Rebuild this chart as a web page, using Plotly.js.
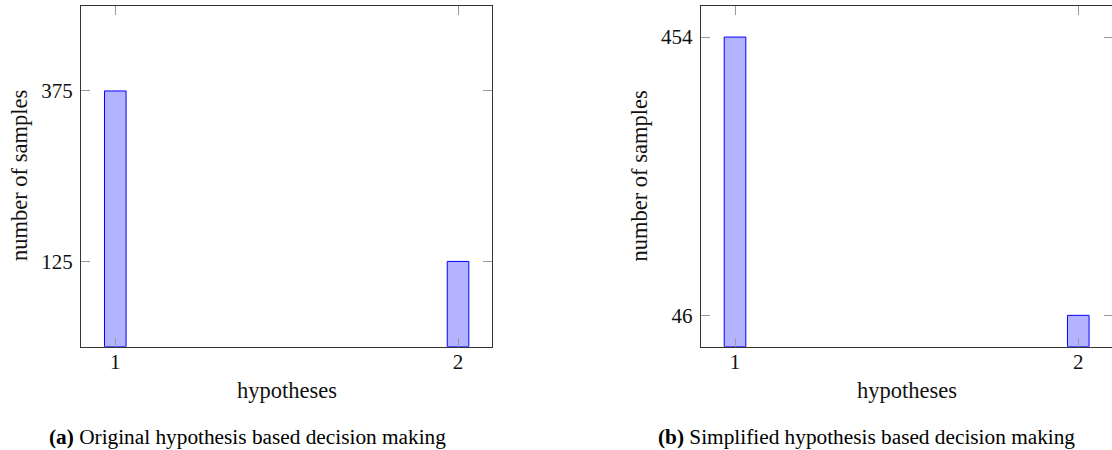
<!DOCTYPE html>
<html>
<head>
<meta charset="utf-8">
<script src="https://cdn.plot.ly/plotly-3.0.1.min.js"></script>
<style>
html, body { margin: 0; padding: 0; overflow: hidden; background: #fff; }
#chart { width: 1114px; height: 450px; }
</style>
</head>
<body>
<div id="chart"></div>
<script>
// Data
const hypotheses = [1, 2];
const originalSamples = [375, 125];
const simplifiedSamples = [454, 46];
const xTickLabels = ["1", "2"];
const xAxisTitle = "hypotheses";
const yAxisTitle = "number of samples";
const captionA = "<b>(a)</b> Original hypothesis based decision making";
const captionB = "<b>(b)</b> Simplified hypothesis based decision making";

const W = 1114, H = 450;
const px = v => v / W;
const py = v => 1 - v / H;

const fontFamily = "Liberation Serif, Times New Roman, serif";
const barStyle = {
  type: 'bar',
  width: 0.063,
  marker: { color: '#b3b3ff', line: { color: '#0000ff', width: 1 } },
  hoverinfo: 'skip',
  showlegend: false
};

const traces = [
  Object.assign({}, barStyle, { x: hypotheses, y: originalSamples, xaxis: 'x', yaxis: 'y' }),
  Object.assign({}, barStyle, { x: hypotheses, y: simplifiedSamples, xaxis: 'x2', yaxis: 'y2' })
];

function xAxis(domain, anchor) {
  return {
    domain: domain, anchor: anchor, range: [0.9, 2.1],
    tickvals: hypotheses, ticktext: xTickLabels,
    showgrid: false, zeroline: false,
    showline: true, linecolor: '#333', linewidth: 1, mirror: 'ticks',
    ticks: 'inside', ticklen: 9, tickcolor: '#999', tickwidth: 1,
    ticklabelstandoff: -4,
    tickfont: { family: fontFamily, size: 21, color: '#111' }
  };
}
function yAxis(domain, anchor, vals) {
  return {
    domain: domain, anchor: anchor, range: [0, 500],
    tickvals: vals, ticktext: vals.map(String),
    showgrid: false, zeroline: false,
    showline: true, linecolor: '#333', linewidth: 1, mirror: 'ticks',
    ticks: 'inside', ticklen: 9, tickcolor: '#999', tickwidth: 1,
    ticklabelstandoff: 3,
    tickfont: { family: fontFamily, size: 21, color: '#111' }
  };
}

const yDom = [py(346.7), py(5.7)];
const titleFont = { family: fontFamily, size: 22.5, color: '#111' };
const capFont = { family: fontFamily, size: 21.3, color: '#000' };
const layout = {
  width: W, height: H,
  margin: { l: 0, r: 0, t: 0, b: 0, pad: 0 },
  paper_bgcolor: '#fff', plot_bgcolor: '#fff',
  bargap: 0,
  xaxis: xAxis([px(81), px(492.3)], 'y'),
  yaxis: yAxis(yDom, 'x', originalSamples.slice().sort((a, b) => a - b)),
  xaxis2: xAxis([px(700.7), px(1112.6)], 'y2'),
  yaxis2: yAxis(yDom, 'x2', simplifiedSamples.slice().sort((a, b) => a - b)),
  annotations: [
    { text: xAxisTitle, x: px(286.5), y: py(390), xref: 'paper', yref: 'paper', showarrow: false,
      xanchor: 'center', yanchor: 'middle', font: titleFont },
    { text: xAxisTitle, x: px(906.5), y: py(390), xref: 'paper', yref: 'paper', showarrow: false,
      xanchor: 'center', yanchor: 'middle', font: titleFont },
    { text: yAxisTitle, x: px(19), y: py(176), xref: 'paper', yref: 'paper', showarrow: false, textangle: -90,
      xanchor: 'center', yanchor: 'middle', font: titleFont },
    { text: yAxisTitle, x: px(638.5), y: py(176), xref: 'paper', yref: 'paper', showarrow: false, textangle: -90,
      xanchor: 'center', yanchor: 'middle', font: titleFont },
    { text: captionA, x: px(247), y: py(437), xref: 'paper', yref: 'paper', showarrow: false,
      xanchor: 'center', yanchor: 'middle', font: capFont },
    { text: captionB, x: px(866.5), y: py(437), xref: 'paper', yref: 'paper', showarrow: false,
      xanchor: 'center', yanchor: 'middle', font: capFont }
  ]
};

Plotly.newPlot('chart', traces, layout, { staticPlot: true, displayModeBar: false });
</script>
</body>
</html>
